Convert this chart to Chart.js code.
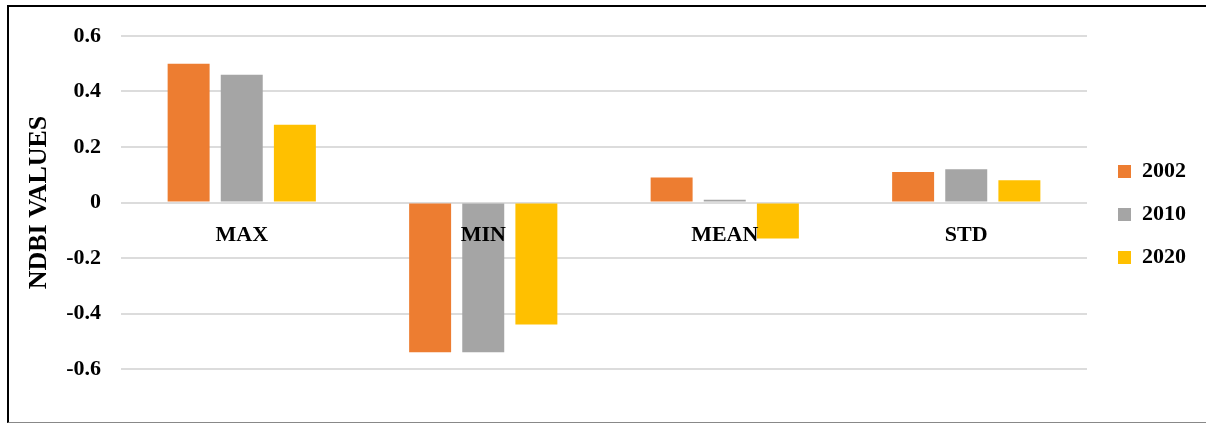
<!DOCTYPE html>
<html>
<head>
<meta charset="utf-8">
<script src="https://cdn.jsdelivr.net/npm/chart.js@4/dist/chart.umd.min.js"></script>
<style>
    body { margin: 0; background: #fff; }
    #wrap { position: absolute; left: 0; top: 0; width: 1206px; height: 423px; }
    #frame {
        position: absolute; left: 7px; top: 5px; width: 1210px; height: 415px;
        border-left: 2px solid #000; border-top: 2px solid #000; border-bottom: 1px solid #888;
        pointer-events: none;
    }
</style>
</head>
<body>
<div id="wrap"><canvas id="chart"></canvas></div>
<div id="frame"></div>
<script>
// values
const categories = ['MAX', 'MIN', 'MEAN', 'STD'];
const years = ['2002', '2010', '2020'];
const values2002 = [0.50, -0.54, 0.09, 0.11];
const values2010 = [0.46, -0.54, 0.01, 0.12];
const values2020 = [0.28, -0.44, -0.13, 0.08];
const yTicks = [-0.6, -0.4, -0.2, 0, 0.2, 0.4, 0.6];

const colors = ['#ED7D31', '#A5A5A5', '#FFC000'];
const serif = "'Liberation Serif', 'Times New Roman', serif";

function makeChart() {
    let ctx = document.getElementById('chart').getContext('2d');
    let series = [values2002, values2010, values2020];

    new Chart(ctx, {
        type: 'bar',
        data: {
            labels: categories,
            datasets: series.map((vals, i) => ({
                label: years[i],
                data: vals,
                backgroundColor: colors[i],
                borderWidth: 0,
                categoryPercentage: 0.66,
                barPercentage: 0.79
            }))
        },
        options: {
            responsive: true,
            maintainAspectRatio: false,
            animation: false,
            layout: { padding: { left: 10, right: 10, top: 36, bottom: 54 } },
            plugins: {
                tooltip: { enabled: false },
                legend: {
                    position: 'right',
                    title: { display: true, text: ' ', font: { size: 10, lineHeight: 1 }, padding: { top: 7, bottom: 7 } },
                    labels: {
                        boxWidth: 13,
                        boxHeight: 13,
                        padding: 21,
                        color: '#000',
                        font: { family: serif, size: 22, weight: 'bold' }
                    }
                }
            },
            scales: {
                x: {
                    position: { y: 0 },
                    grid: { display: false },
                    border: { display: false },
                    ticks: {
                        z: 1,
                        padding: 12,
                        color: '#000',
                        font: { family: serif, size: 22, weight: 'bold' }
                    }
                },
                y: {
                    min: yTicks[0],
                    max: yTicks[yTicks.length - 1],
                    afterBuildTicks: scale => { scale.ticks = yTicks.map(v => ({ value: v })); },
                    afterFit: scale => { scale.width = 111; },
                    grid: { color: '#dcdcdc', lineWidth: 2, drawTicks: false },
                    border: { display: false },
                    ticks: {
                        padding: 20,
                        color: '#000',
                        font: { family: serif, size: 22, weight: 'bold' },
                        callback: v => v === 0 ? '0' : Number(v).toFixed(1)
                    },
                    title: {
                        display: true,
                        text: 'NDBI VALUES',
                        color: '#000',
                        padding: { top: 14, bottom: 0 },
                        font: { family: serif, size: 26, weight: 'bold' }
                    }
                },
                y2: {
                    position: 'right',
                    grid: { display: false },
                    border: { display: false },
                    ticks: { display: false },
                    afterFit: scale => { scale.width = 10; }
                }
            }
        }
    });
}

document.addEventListener('DOMContentLoaded', makeChart);
</script>
</body>
</html>
